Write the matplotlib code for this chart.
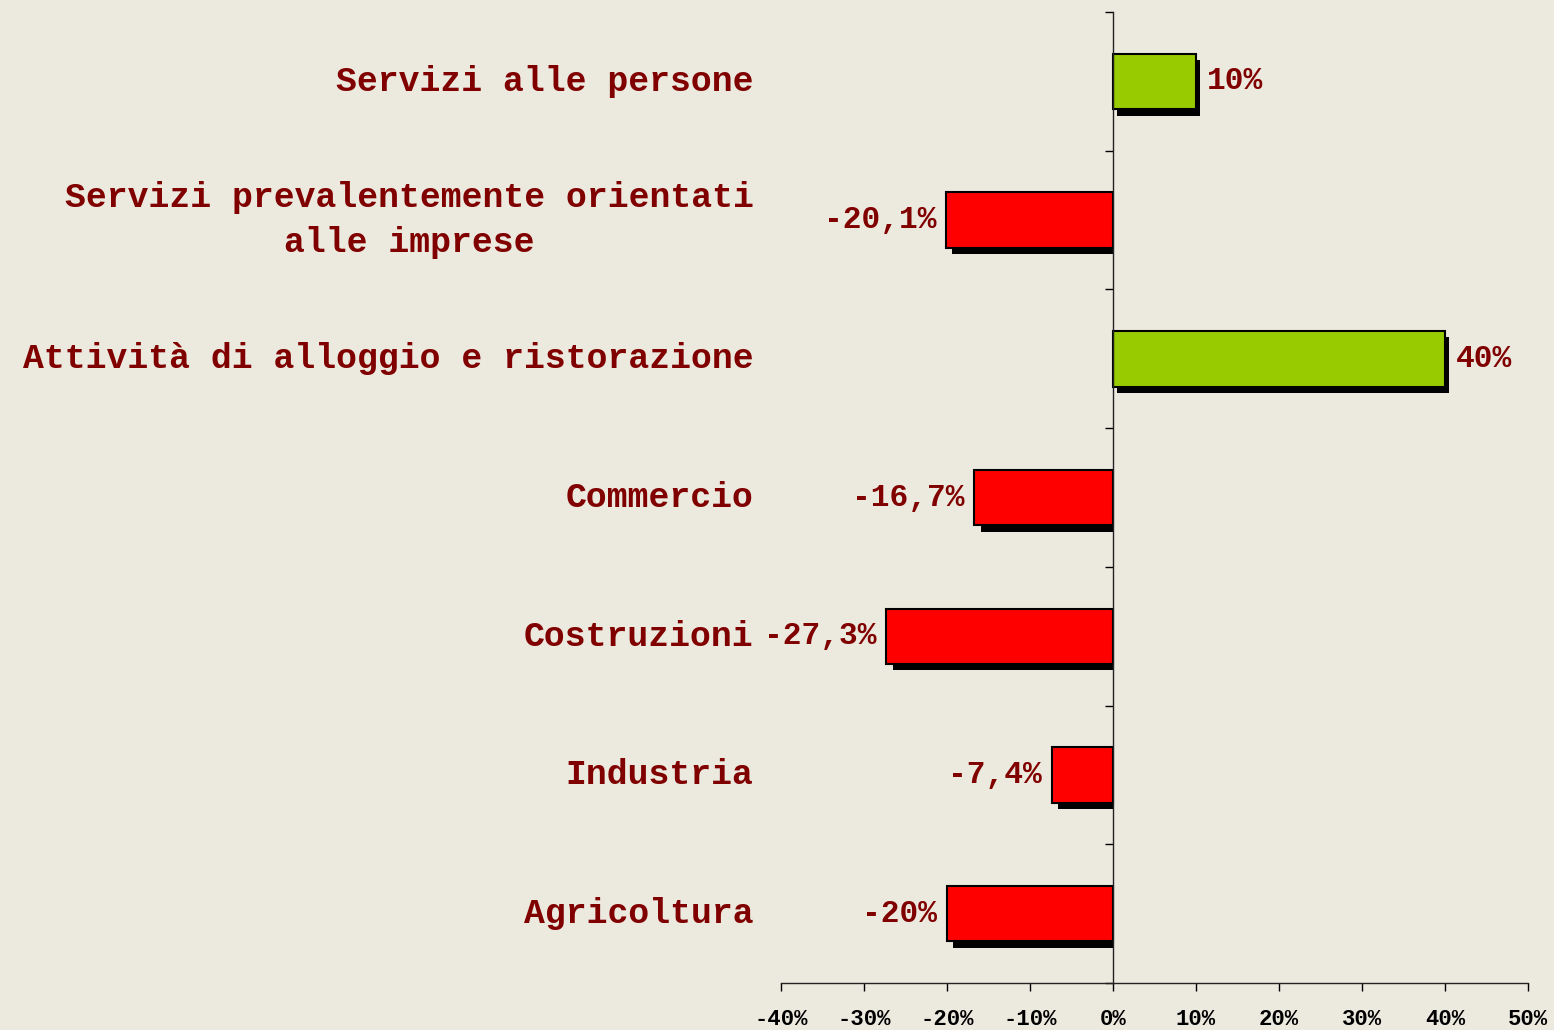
import matplotlib.pyplot as plt
import matplotlib.transforms as mtransforms
import numpy as np

categories = ["Servizi alle persone",
              "Servizi prevalentemente orientati\nalle imprese",
              "Attività di alloggio e ristorazione",
              "Commercio",
              "Costruzioni",
              "Industria",
              "Agricoltura"]
values = [10, -20.1, 40, -16.7, -27.3, -7.4, -20]
value_labels = ["10%", "-20,1%", "40%", "-16,7%", "-27,3%", "-7,4%", "-20%"]
xticks = [-40, -30, -20, -10, 0, 10, 20, 30, 40, 50]

bg = "#ECE9DF"
text_color = "#800000"
font = "Liberation Mono"

fig = plt.figure(figsize=(15.54, 10.30), dpi=100, facecolor=bg)
ax = fig.add_axes([0.5026, 0.0456, 0.4807, 0.9427], facecolor=bg)

n = len(categories)
ypos = np.arange(n)[::-1]
colors = ["#99CC00" if v > 0 else "#FF0000" for v in values]

# shadow offsets (data units, ~6 px)
dx = 0.75
dy = 0.046
for y, v in zip(ypos, values):
    if v > 0:
        ax.barh(y - dy, v, left=dx * 0.6, height=0.40, color="black", zorder=1)
    else:
        ax.barh(y - dy, -v - dx + 0.15, left=v + dx, height=0.40, color="black", zorder=1)

ax.barh(ypos, values, height=0.40, color=colors, edgecolor="black",
        linewidth=1.5, zorder=2)

for y, v, lab in zip(ypos, values, value_labels):
    if v > 0:
        ax.annotate(lab, (v, y), xytext=(8, 0), textcoords="offset points",
                    ha="left", va="center", color=text_color, fontsize=22.5,
                    fontweight="bold", family=font)
    else:
        ax.annotate(lab, (v, y), xytext=(-7, 0), textcoords="offset points",
                    ha="right", va="center", color=text_color, fontsize=22.5,
                    fontweight="bold", family=font)

trans = mtransforms.blended_transform_factory(ax.transAxes, ax.transData)
for y, cat in zip(ypos, categories):
    ax.text(-0.037, y, cat, transform=trans, ha="right", va="center",
            multialignment="center", color=text_color, fontsize=25,
            fontweight="bold", family=font, linespacing=1.45)

ax.set_xlim(-40, 50)
ax.set_ylim(-0.5, n - 0.5)
ax.set_xticks(xticks)
ax.set_xticklabels([f"{t}%" for t in xticks], fontsize=16, fontweight="bold",
                   family=font, color="black")
ax.set_yticks(np.arange(n + 1) - 0.5)
ax.set_yticklabels([])

ax.spines["top"].set_visible(False)
ax.spines["right"].set_visible(False)
ax.spines["left"].set_position(("data", 0))
ax.spines["left"].set_zorder(3)
for s in ["left", "bottom"]:
    ax.spines[s].set_linewidth(1.0)
    ax.spines[s].set_color("#222222")

ax.tick_params(axis="x", direction="out", length=6, width=1, pad=13)
ax.tick_params(axis="y", direction="out", length=6, width=1)

fig.savefig("out.png", dpi=100, facecolor=bg)
